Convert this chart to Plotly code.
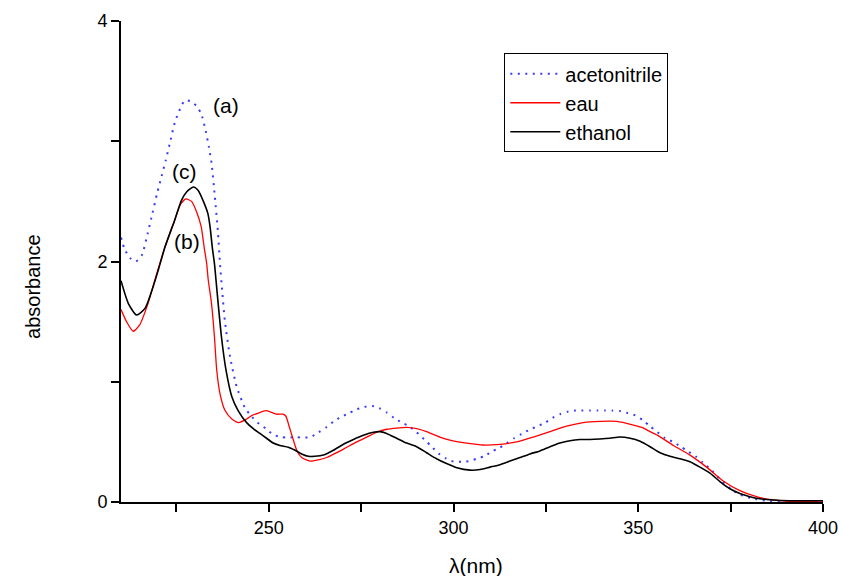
import plotly.graph_objects as go

# ---- data ----
acn_wl = [210, 211, 212.4, 214, 215.6, 217.2, 218.5, 219.8, 221, 222.1, 223.2, 224.6, 226, 227.3,
          229.1, 230.5, 231.7, 232.9, 233.8, 234.5, 235.4, 236.2, 236.8, 237.4, 238.1, 239.5, 241.3,
          243.6, 245.4, 247, 249.2, 251.2, 253.2, 255.2, 257.4, 259.3, 261.3, 263.5, 265.5, 267.6,
          269.7, 271.8, 273.8, 275.8, 277.8, 279.9, 281.9, 283.9, 286, 288, 290, 292.1, 294.1, 296.1,
          298.1, 300.2, 302.2, 304.3, 306.3, 308.3, 310.4, 312.4, 314.4, 316.4, 318.4, 320.5, 322.7,
          324.8, 326.8, 328.8, 330.8, 332.9, 335, 337, 339, 341, 343, 345, 347.1, 349.2, 351.2, 353.2,
          355.2, 357.3, 359.4, 361.5, 363.5, 365.5, 367.4, 369.6, 371.5, 373.5, 375.4, 377.5, 379.5,
          381.6, 383.6, 385.7, 387.6, 390, 395, 400]
acn_abs = [2.20, 2.10, 2.03, 2.00, 2.05, 2.23, 2.40, 2.57, 2.71, 2.84, 2.98, 3.16, 3.27, 3.34,
           3.33, 3.29, 3.23, 3.09, 2.95, 2.82, 2.54, 2.26, 1.98, 1.75, 1.51, 1.21, 0.96,
           0.78, 0.71, 0.66, 0.61, 0.56, 0.54, 0.535, 0.54, 0.535, 0.54, 0.58, 0.62, 0.67,
           0.71, 0.74, 0.77, 0.79, 0.80, 0.78, 0.745, 0.70, 0.66, 0.63, 0.58, 0.52, 0.46, 0.40,
           0.36, 0.335, 0.335, 0.34, 0.36, 0.38, 0.42, 0.45, 0.49, 0.53, 0.565, 0.60, 0.63,
           0.66, 0.70, 0.73, 0.75, 0.76, 0.76, 0.76, 0.76, 0.76, 0.76, 0.757, 0.74, 0.72, 0.68, 0.63,
           0.58, 0.53, 0.50, 0.46, 0.42, 0.38, 0.33, 0.27, 0.21, 0.15, 0.10, 0.064, 0.04,
           0.025, 0.014, 0.008, 0.004, 0.002, 0.001, 0.0]

eau_wl = [210, 211.5, 213.3, 215, 217.3, 219.2, 221.9, 224.6, 226, 227.5, 229.1, 230.5, 231.7,
          232.5, 233.2, 233.6, 234.5, 235.3, 235.9, 236.8, 238.1, 240, 241.9, 244, 245.5, 247.2,
          249.2, 250.8, 252.1, 253.8, 254.6, 255.5, 256.6, 257.7, 258.9, 261.2, 263.4, 265.7, 268.4,
          271.1, 273.8, 276.5, 279.2, 281.9, 284.6, 287.3, 290, 292.7, 296.3, 299, 303.6, 308,
          312.6, 317.1, 321.6, 326.1, 330.6, 335.1, 339.6, 344.2, 348.7, 351, 353.2, 355.5, 359.5,
          364, 368.5, 373, 377.5, 382, 386.5, 391, 395, 400]
eau_abs = [1.60, 1.50, 1.42, 1.47, 1.65, 1.85, 2.12, 2.35, 2.47, 2.52, 2.50, 2.41, 2.29,
           2.12, 1.98, 1.85, 1.65, 1.37, 1.10, 0.90, 0.765, 0.69, 0.66, 0.69, 0.72, 0.74,
           0.76, 0.745, 0.73, 0.73, 0.715, 0.63, 0.52, 0.42, 0.37, 0.34, 0.35, 0.37, 0.41,
           0.455, 0.50, 0.54, 0.58, 0.605, 0.615, 0.62, 0.61, 0.585, 0.54, 0.515, 0.49, 0.474,
           0.48, 0.50, 0.54, 0.585, 0.63, 0.66, 0.67, 0.67, 0.64, 0.62, 0.585, 0.55, 0.47,
           0.39, 0.29, 0.175, 0.094, 0.044, 0.017, 0.006, 0.002, 0.0]

eth_wl = [210, 212, 214.2, 216.5, 218.7, 220.1, 221.9, 224.6, 226.4, 227.8, 229.6, 230.9, 232.3,
          233.5, 234.1, 234.7, 235.3, 235.7, 236.3, 237.2, 238.4, 240, 241.7, 244, 245.8, 247.6,
          249.4, 251.2, 253, 255.3, 257.1, 258.9, 260.7, 262.5, 264.8, 267.5, 270.2, 272.9, 275.6,
          278.3, 280.1, 281.9, 284.6, 287.3, 290, 292.7, 295.4, 298.1, 300.9, 304.5, 307.2, 309.9,
          312.6, 315.3, 318, 320.7, 323.4, 326.1, 328.8, 331.5, 334.2, 336.9, 339.6, 342.3, 345,
          347.8, 350.5, 353.2, 355.9, 358.6, 361.3, 364, 366.7, 369.4, 372.1, 374.8, 377.5, 380.2,
          382.9, 386.5, 391, 395.6, 400]
eth_abs = [1.84, 1.65, 1.555, 1.61, 1.79, 1.93, 2.12, 2.35, 2.51, 2.58, 2.62, 2.59, 2.50,
           2.40, 2.29, 2.12, 1.98, 1.85, 1.65, 1.37, 1.10, 0.875, 0.76, 0.66, 0.61, 0.57,
           0.53, 0.49, 0.47, 0.455, 0.43, 0.40, 0.38, 0.38, 0.39, 0.43, 0.48, 0.52, 0.555,
           0.58, 0.585, 0.57, 0.53, 0.49, 0.46, 0.41, 0.36, 0.32, 0.285, 0.265, 0.27, 0.29,
           0.31, 0.34, 0.37, 0.40, 0.425, 0.46, 0.49, 0.51, 0.52, 0.52, 0.524, 0.53, 0.54,
           0.53, 0.505, 0.46, 0.41, 0.38, 0.36, 0.335, 0.29, 0.24, 0.17, 0.11, 0.07, 0.044,
           0.027, 0.017, 0.011, 0.01, 0.01]

series_names = ["acetonitrile", "eau", "ethanol"]
x_ticks = [250, 300, 350, 400]
y_ticks = [0, 2, 4]
peak_labels = ["(a)", "(c)", "(b)"]

FONT = "Liberation Sans, Arial, sans-serif"

fig = go.Figure()
fig.add_trace(go.Scatter(x=acn_wl, y=acn_abs, mode="lines", name=series_names[0],
                         line=dict(color="#3a3aff", width=2, dash="2px,5.5px",
                                   shape="spline", smoothing=0.6)))
fig.add_trace(go.Scatter(x=eau_wl, y=eau_abs, mode="lines", name=series_names[1],
                         line=dict(color="#ff0000", width=1.3, shape="spline", smoothing=0.6)))
fig.add_trace(go.Scatter(x=eth_wl, y=eth_abs, mode="lines", name=series_names[2],
                         line=dict(color="#000000", width=1.6, shape="spline", smoothing=0.6)))

ann = [
    dict(x=238.3, y=3.30, text=peak_labels[0]),
    dict(x=227.3, y=2.75, text=peak_labels[1]),
    dict(x=227.9, y=2.17, text=peak_labels[2]),
]
annotations = [dict(a, xref="x", yref="y", showarrow=False,
                    font=dict(family=FONT, size=21, color="black")) for a in ann]
annotations.append(dict(text="absorbance", xref="paper", yref="paper", x=-0.144, y=0.449,
                        textangle=-90, showarrow=False,
                        font=dict(family=FONT, size=20, color="black")))
annotations.append(dict(text="λ(nm)", xref="paper", yref="paper", x=0.505, y=-0.133,
                        yanchor="middle", showarrow=False,
                        font=dict(family=FONT, size=21, color="black")))

fig.update_layout(
    width=842, height=576,
    margin=dict(l=121, r=19, t=21, b=74, autoexpand=False),
    paper_bgcolor="white", plot_bgcolor="white",
    font=dict(family=FONT, size=18, color="black"),
    showlegend=True,
    legend=dict(x=0.546, y=0.933, xanchor="left", yanchor="top",
                bordercolor="black", borderwidth=1, bgcolor="white",
                font=dict(family=FONT, size=20), tracegroupgap=0,
                itemwidth=50),
    annotations=annotations,
    xaxis=dict(range=[210, 400], tickvals=x_ticks, ticks="outside", ticklen=8,
               tickwidth=1.5, tickcolor="black", showline=True, linecolor="black",
               linewidth=2, showgrid=False, zeroline=False,
               tickfont=dict(family=FONT, size=18),
               minor=dict(dtick=25, tick0=200, ticks="outside", ticklen=8,
                          tickwidth=1.5, tickcolor="black", showgrid=False)),
    yaxis=dict(range=[0, 4], tickvals=y_ticks, ticks="outside", ticklen=8,
               tickwidth=1.5, tickcolor="black", showline=True, linecolor="black",
               linewidth=2, showgrid=False, zeroline=False,
               tickfont=dict(family=FONT, size=18),
               minor=dict(dtick=1, tick0=0, ticks="outside", ticklen=8,
                          tickwidth=1.5, tickcolor="black", showgrid=False)),
)

fig.write_html("out.html")
